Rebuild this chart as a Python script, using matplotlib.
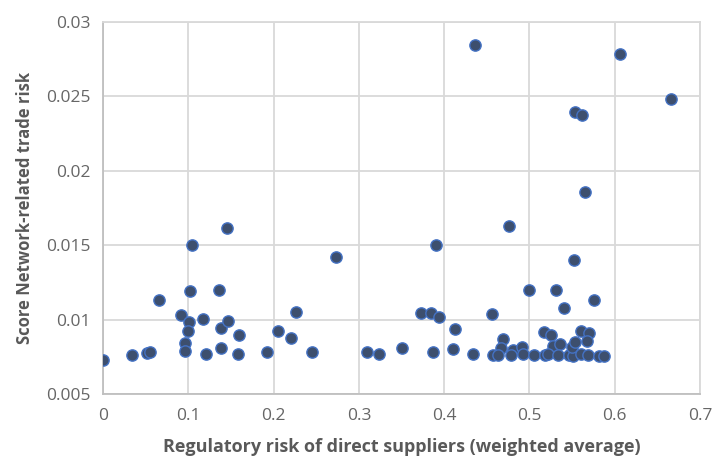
import matplotlib.pyplot as plt
import numpy as np

# Regulatory risk (x) vs network-related trade risk score (y)
reg_risk = [0.000, 0.034, 0.052, 0.055, 0.066, 0.091, 0.101, 0.0997, 0.0957, 0.0957,
            0.102, 0.1047, 0.117, 0.121, 0.1364, 0.1387, 0.1465, 0.145, 0.1387, 0.159,
            0.158, 0.192, 0.2055, 0.2204, 0.2267, 0.2446, 0.2735,
            0.310, 0.3232, 0.3505, 0.373, 0.385, 0.394, 0.391, 0.387, 0.4127, 0.410,
            0.434, 0.4557, 0.4756, 0.4693, 0.467, 0.481, 0.4908, 0.457, 0.463, 0.478,
            0.493, 0.4998, 0.505, 0.5166, 0.525, 0.528, 0.536, 0.518, 0.522, 0.5337,
            0.5314, 0.541, 0.5525, 0.5467, 0.551, 0.5498, 0.553, 0.561, 0.5698, 0.567,
            0.560, 0.569, 0.576, 0.5818, 0.587,
            0.4365, 0.6057, 0.666, 0.5537, 0.5616, 0.5655]
score = [0.00733, 0.00766, 0.00779, 0.00781, 0.01130, 0.01030, 0.00987, 0.00925, 0.00847, 0.00793,
         0.01195, 0.01505, 0.01005, 0.00773, 0.01202, 0.00942, 0.00992, 0.01617, 0.00808, 0.00898,
         0.00773, 0.00786, 0.00925, 0.00880, 0.01050, 0.00786, 0.01418,
         0.00786, 0.00773, 0.00813, 0.01043, 0.01043, 0.01016, 0.01499, 0.00786, 0.00938, 0.00806,
         0.00773, 0.01036, 0.01631, 0.00873, 0.00811, 0.00795, 0.00818, 0.00764, 0.00764, 0.00764,
         0.00771, 0.01202, 0.00764, 0.00920, 0.00898, 0.00822, 0.00840, 0.00764, 0.00768, 0.00764,
         0.01202, 0.01076, 0.01398, 0.00764, 0.00759, 0.00818, 0.00849, 0.00925, 0.00912, 0.00860,
         0.00773, 0.00764, 0.01130, 0.00759, 0.00759,
         0.02844, 0.02784, 0.02482, 0.02397, 0.02375, 0.01854]

x_ticks = [0, 0.1, 0.2, 0.3, 0.4, 0.5, 0.6, 0.7]
x_tick_labels = ['0', '0.1', '0.2', '0.3', '0.4', '0.5', '0.6', '0.7']
y_ticks = [0.005, 0.01, 0.015, 0.02, 0.025, 0.03]
y_tick_labels = ['0.005', '0.01', '0.015', '0.02', '0.025', '0.03']

plt.rcParams['font.family'] = ['Open Sans', 'DejaVu Sans']

fig = plt.figure(figsize=(7.13, 4.59), dpi=100)
ax = fig.add_axes([0.1445, 0.141, 0.8373, 0.8117])

ax.scatter(reg_risk, score, s=66, color='#3D4F6E', edgecolors='#4472C4',
           linewidths=1.0, zorder=3)

ax.set_xlim(0, 0.7)
ax.set_ylim(0.005, 0.03)
ax.set_xticks(x_ticks)
ax.set_xticklabels(x_tick_labels)
ax.set_yticks(y_ticks)
ax.set_yticklabels(y_tick_labels)

ax.grid(True, color='#D9D9D9', linewidth=1.3, zorder=0)
ax.set_axisbelow(True)
for side in ['top', 'right']:
    ax.spines[side].set_color('#D9D9D9')
    ax.spines[side].set_linewidth(1.3)
for side in ['left', 'bottom']:
    ax.spines[side].set_color('#BFBFBF')
    ax.spines[side].set_linewidth(1.3)

ax.tick_params(length=0, labelsize=12.5, labelcolor='#666666')
ax.tick_params(axis='x', pad=10)
ax.tick_params(axis='y', pad=9)

ax.set_xlabel('Regulatory risk of direct suppliers (weighted average)',
              fontsize=13, fontweight='bold', color='#595959', labelpad=10)
ax.set_ylabel('Score Network-related trade risk',
              fontsize=12, fontweight='bold', color='#595959', labelpad=9)

fig.savefig('out.png', dpi=100)
